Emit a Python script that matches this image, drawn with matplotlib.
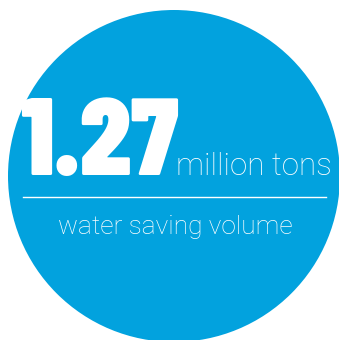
import matplotlib
matplotlib.use("Agg")
import matplotlib.pyplot as plt
from matplotlib.patches import Circle

# data
value_label = "1.27"
unit_label = "million tons"
caption = "water saving volume"

blue = "#02a2de"
big_font = ["Barlow Condensed", "Roboto Condensed", "DejaVu Sans"]
thin_font = ["Roboto", "Inter", "DejaVu Sans"]

fig = plt.figure(figsize=(3.39, 3.40), dpi=100)
ax = fig.add_axes([0, 0, 1, 1])
ax.set_xlim(0, 339)
ax.set_ylim(340, 0)
ax.axis("off")

ax.add_patch(Circle((174, 176), 166, color=blue, lw=0))

ax.text(20, 175, value_label, color="white", fontsize=79, fontweight=900,
        family=big_font, ha="left", va="baseline")

ax.text(176, 175, unit_label, color="white", fontsize=22.5,
        family=thin_font, fontweight="light", ha="left", va="baseline")

ax.plot([23, 326], [197, 197], color="white", lw=1)

ax.text(175.5, 234, caption, color="white", fontsize=19,
        family=thin_font, fontweight="light", ha="center", va="baseline")

fig.savefig("out.png", dpi=100)
